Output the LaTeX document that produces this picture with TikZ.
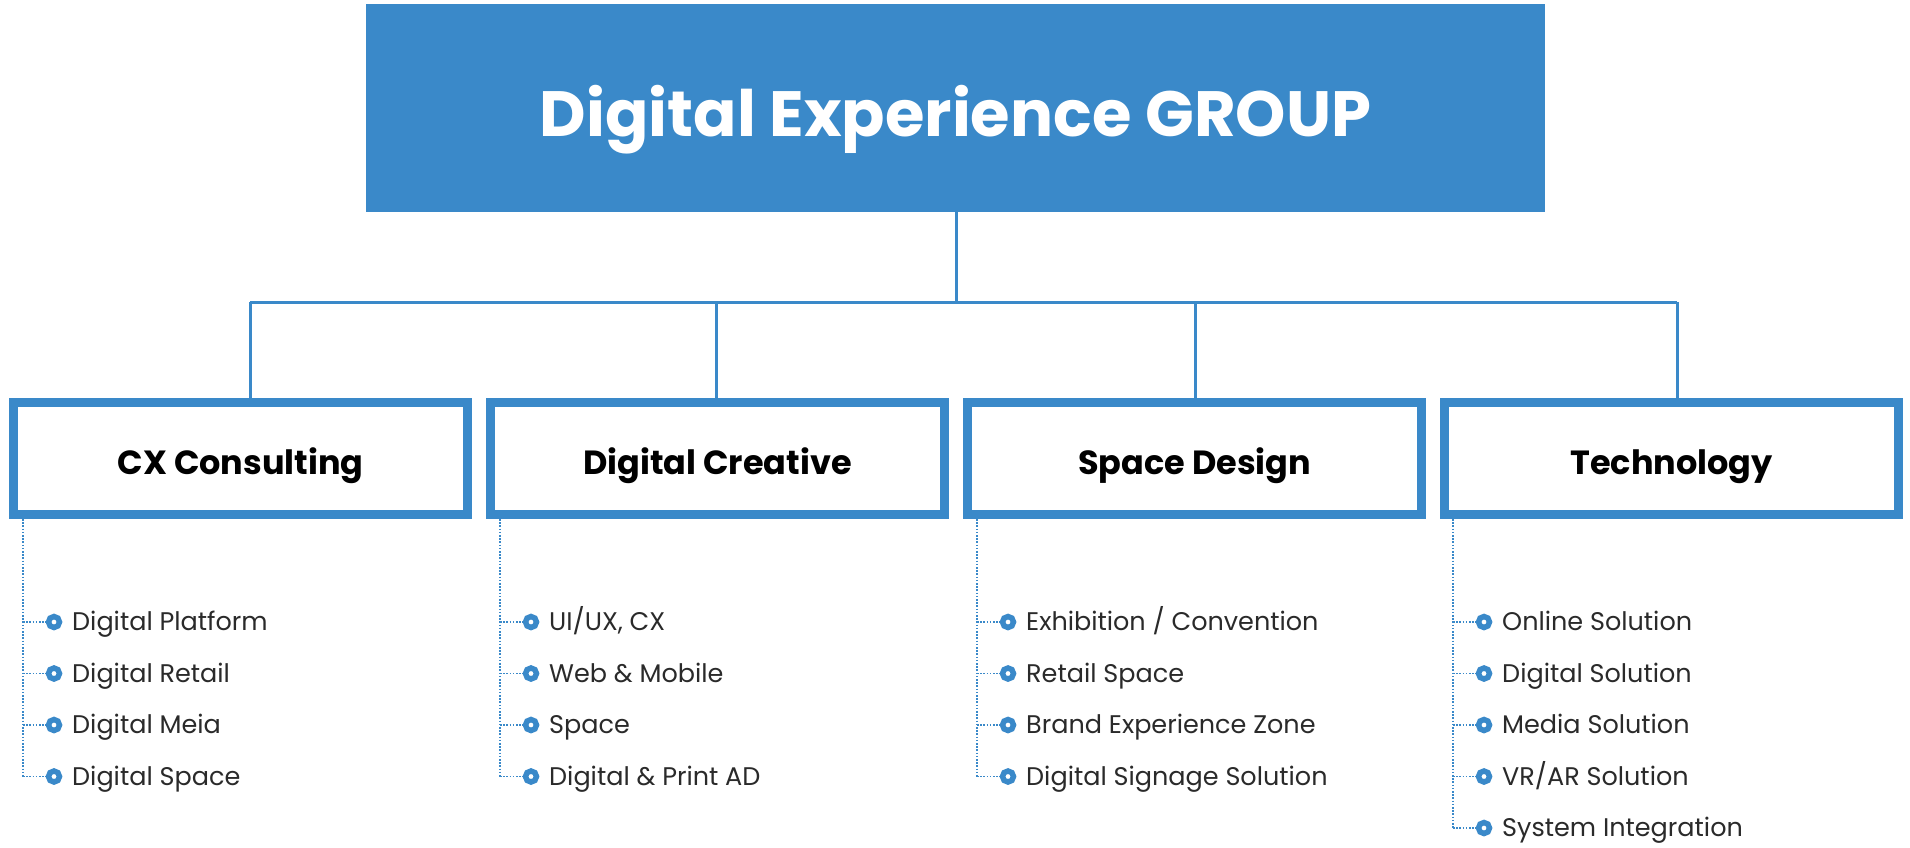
\documentclass[tikz,border=0pt]{standalone}
\usepackage{fontspec}
\setmainfont{Poppins}
\definecolor{dxblue}{HTML}{3A89C9}
\definecolor{dxtext}{HTML}{2A2A2A}
\newcommand\dxitem[4]{%
  \coordinate (#1v) at (#2+14,#3);
  \node[dxbullet] (#1b) at (#2+45,#3) {};
  \node[dxitemtxt] (#1) at (#2+63,#3+8.5) {#4};
  \draw[dxdots] (#1v) -- (#1b);
}
\begin{document}
\begin{tikzpicture}[x=1pt,y=-1pt,
  titlebox/.style={fill=dxblue, draw=none, minimum width=1179pt, minimum height=208pt,
    inner sep=0pt, text=white, text height=56pt, text depth=0pt,
    font=\fontsize{64}{68}\selectfont\bfseries},
  headbox/.style={draw=dxblue, fill=white, line width=9pt, minimum width=454pt,
    minimum height=112pt, inner sep=0pt, text height=31pt, text depth=0pt,
    font=\fontsize{33.5}{38}\selectfont\bfseries, text=black},
  conn/.style={draw=dxblue, line width=3pt},
  dxdots/.style={draw=dxblue, line width=1.6pt, dash pattern=on 1.6pt off 1.6pt},
  dxbullet/.style={circle, draw=dxblue, line width=5.5pt, minimum size=11pt, inner sep=0pt},
  dxitemtxt/.style={anchor=base west, inner sep=0pt, text=dxtext, font=\fontsize{25.5}{28}\selectfont}
]
\useasboundingbox (0,0) rectangle (1910,847);
\node[titlebox] (title) at (955.5,108) {Digital Experience GROUP};
\node[headbox] (b1) at (240.5,458.5) {CX Consulting};
\node[headbox] (b2) at (717.5,458.5) {Digital Creative};
\node[headbox] (b3) at (1194.5,458.5) {Space Design};
\node[headbox] (b4) at (1671.5,458.5) {Technology};
% bus
\coordinate (bus) at (956,302);
\coordinate (d1) at (250,302);
\coordinate (d2) at (716,302);
\coordinate (d3) at (1195,302);
\coordinate (d4) at (1677,302);
\draw[conn] (title.south -| bus) -- (bus);
\draw[conn] (d1) -- (d4);
\draw[conn] (d1) -- (d1 |- b1.north);
\draw[conn] (d2) -- (d2 |- b2.north);
\draw[conn] (d3) -- (d3 |- b3.north);
\draw[conn] (d4) -- (d4 |- b4.north);
% column 1
\dxitem{a1}{9}{622}{Digital Platform}
\dxitem{a2}{9}{673.5}{Digital Retail}
\dxitem{a3}{9}{725}{Digital Meia}
\dxitem{a4}{9}{776.5}{Digital Space}
\draw[dxdots] (a1v |- b1.south) -- (a4v);
% column 2
\dxitem{e1}{486}{622}{UI/UX, CX}
\dxitem{e2}{486}{673.5}{Web \& Mobile}
\dxitem{e3}{486}{725}{Space}
\dxitem{e4}{486}{776.5}{Digital \& Print AD}
\draw[dxdots] (e1v |- b2.south) -- (e4v);
% column 3
\dxitem{s1}{963}{622}{Exhibition / Convention}
\dxitem{s2}{963}{673.5}{Retail Space}
\dxitem{s3}{963}{725}{Brand Experience Zone}
\dxitem{s4}{963}{776.5}{Digital Signage Solution}
\draw[dxdots] (s1v |- b3.south) -- (s4v);
% column 4
\dxitem{t1}{1439}{622}{Online Solution}
\dxitem{t2}{1439}{673.5}{Digital Solution}
\dxitem{t3}{1439}{725}{Media Solution}
\dxitem{t4}{1439}{776.5}{VR/AR Solution}
\dxitem{t5}{1439}{828}{System Integration}
\draw[dxdots] (t1v |- b4.south) -- (t5v);
\end{tikzpicture}
\end{document}
